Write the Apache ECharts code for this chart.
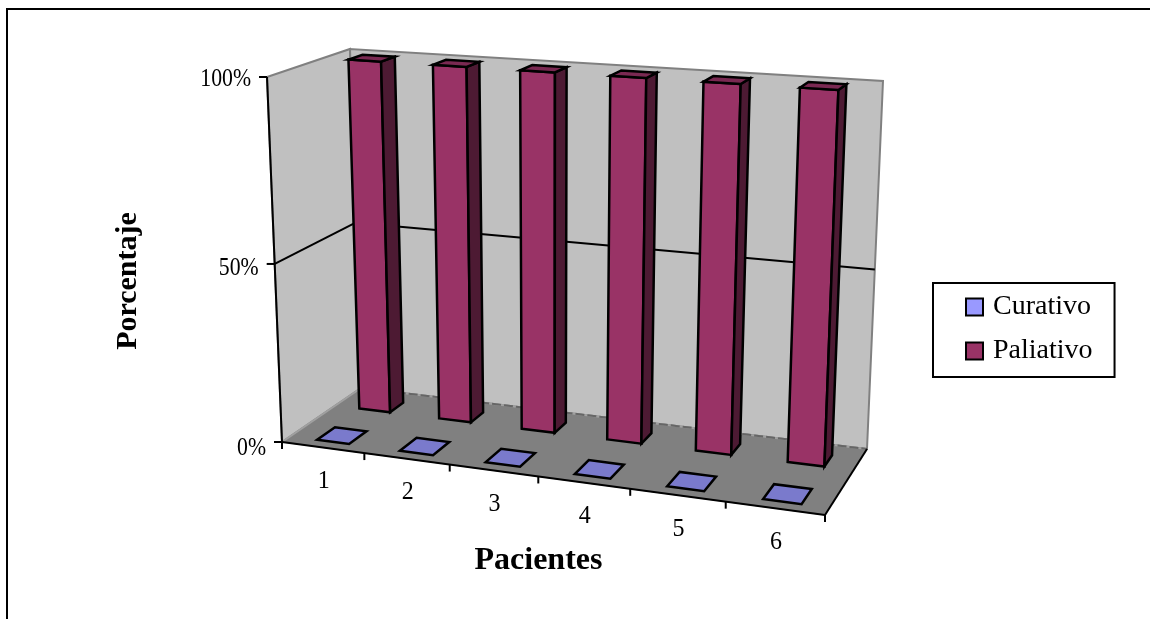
<!DOCTYPE html>
<html>
<head>
<meta charset="utf-8">
<style>html,body{margin:0;padding:0;background:#fff}#chart{width:1150px;height:619px}</style>
<script src="https://cdn.jsdelivr.net/npm/echarts@6/dist/echarts.min.js"></script>
</head>
<body>
<div id="chart"></div>
<script>
var pacientes = ['1', '2', '3', '4', '5', '6'];
var curativo = [0, 0, 0, 0, 0, 0];
var paliativo = [100, 100, 100, 100, 100, 100];
var porcentajes = [0, 50, 100];

// the hidden grid is the flat chart, project() folds it into the 3d box
var gridL = 100, gridT = 100, gridW = 600, gridH = 300;
var serif = '"Liberation Serif", "Times New Roman", serif';

// corners of the box: front left, front right, back right, back left
var floorQuad = [[282, 442], [825, 515], [867, 449], [361, 388]];
var topQuad = [[267, 77], [839, 115], [883, 81], [350, 49]];

function homography(q) {
    var dx1 = q[1][0] - q[2][0], dx2 = q[3][0] - q[2][0], sx = q[0][0] - q[1][0] + q[2][0] - q[3][0];
    var dy1 = q[1][1] - q[2][1], dy2 = q[3][1] - q[2][1], sy = q[0][1] - q[1][1] + q[2][1] - q[3][1];
    var den = dx1 * dy2 - dx2 * dy1;
    var g = (sx * dy2 - dx2 * sy) / den, h = (dx1 * sy - sx * dy1) / den;
    var a = q[1][0] - q[0][0] + g * q[1][0], b = q[3][0] - q[0][0] + h * q[3][0];
    var d = q[1][1] - q[0][1] + g * q[1][1], e = q[3][1] - q[0][1] + h * q[3][1];
    return function (u, w) {
        var t = g * u + h * w + 1;
        return [(a * u + b * w + q[0][0]) / t, (d * u + e * w + q[0][1]) / t];
    };
}
var floorH = homography(floorQuad), topH = homography(topQuad);

function project(u, v, w) {
    var p0 = floorH(u, w), p1 = topH(u, w);
    var k = v / (v + (1 - v) * 1.05);
    return [p0[0] + (p1[0] - p0[0]) * k, p0[1] + (p1[1] - p0[1]) * k];
}
function toU(x) { return (x - gridL) / gridW; }
function toV(y) { return (gridT + gridH - y) / gridH; }

function poly(points, fill, stroke, lineWidth) {
    return {
        type: 'polygon',
        shape: {points: points},
        style: {fill: fill, stroke: stroke, lineWidth: lineWidth, lineJoin: 'miter'}
    };
}
function line(a, b, color, width, dash) {
    return {
        type: 'line',
        shape: {x1: a[0], y1: a[1], x2: b[0], y2: b[1]},
        style: {stroke: color, lineWidth: width, lineDash: dash}
    };
}
// the labels in the picture are tall and narrow, hence the scaleX
function label(text, p, align, size, sx) {
    return {
        type: 'text',
        x: p[0],
        y: p[1],
        scaleX: sx,
        style: {text: text, align: align, verticalAlign: 'middle', fill: '#000', font: size + 'px ' + serif}
    };
}

function renderBox(params, api) {
    var c = [];
    var edge = '#808080';
    c.push(poly([project(0, 0, 0), project(0, 1, 0), project(0, 1, 1), project(0, 0, 1)], '#c0c0c0', edge, 2));
    c.push(poly([project(0, 0, 1), project(0, 1, 1), project(1, 1, 1), project(1, 0, 1)], '#c0c0c0', edge, 2));
    c.push(poly([project(0, 0, 0), project(1, 0, 0), project(1, 0, 1), project(0, 0, 1)], '#808080', edge, 1));
    c.push(line(project(0, 0, 0), project(0, 0, 1), '#a0a0a0', 2));
    c.push(line(project(0, 0, 1), project(1, 0, 1), '#a0a0a0', 2));
    c.push(line(project(0, 0, 1), project(1, 0, 1), '#666', 2, [9, 3]));
    // grid lines on the walls
    porcentajes.forEach(function (val) {
        var v = toV(api.coord([0, val])[1]);
        if (val > 0 && val < 100) {
            c.push(line(project(0, v, 0), project(0, v, 1), '#000', 2));
            c.push(line(project(0, v, 1), project(1, v, 1), '#000', 2));
        }
        var p = project(0, v, 0);
        c.push(line([p[0] - 8, p[1]], p, '#000', 2));
        c.push(label(val + '%', [p[0] - 16, p[1] + 6 - 4 * v], 'right', 25, 0.87));
    });
    c.push(line(project(0, 0, 0), project(0, 1, 0), '#000', 2));
    c.push(line(project(0, 0, 0), project(1, 0, 0), '#000', 2));
    c.push(line(project(1, 0, 0), project(1, 0, 1), '#000', 2));
    // category ticks and labels
    var band = api.size([1, 0])[0];
    for (var i = 0; i <= pacientes.length; i++) {
        var u = toU(api.coord([i, 0])[0] - band / 2);
        var p = project(u, 0, 0);
        c.push(line(p, [p[0], p[1] + 7], '#000', 2));
        if (i < pacientes.length) {
            var m = project(toU(api.coord([i, 0])[0]), 0, 0);
            c.push(label(pacientes[i], [m[0] + 1, m[1] + 34], 'center', 25, 0.96));
        }
    }
    return {type: 'group', children: c};
}

function renderBar(wFront, wBack, front, side, top, barFrac, shift) {
    return function (params, api) {
        var band = api.size([1, 0])[0];
        var cx = api.coord([api.value(0), 0])[0] + band * shift;
        var half = band * barFrac / 2;
        var u0 = toU(cx - half), u1 = toU(cx + half);
        var v = toV(api.coord([0, api.value(1)])[1]);
        var c = [];
        if (v > 0) {
            c.push(poly([project(u0, 0, wFront), project(u1, 0, wFront), project(u1, v, wFront), project(u0, v, wFront)], front, '#000', 2.5));
            c.push(poly([project(u1, 0, wFront), project(u1, 0, wBack), project(u1, v, wBack), project(u1, v, wFront)], side, '#000', 2.5));
        }
        c.push(poly([project(u0, v, wFront), project(u1, v, wFront), project(u1, v, wBack), project(u0, v, wBack)], top, '#000', 2.5));
        return {type: 'group', children: c};
    };
}

function rows(values) {
    return values.map(function (val, i) { return [i, val]; });
}

var myChart = echarts.init(document.getElementById('chart'));
var option = {
    backgroundColor: '#fff',
    animation: false,
    grid: {left: gridL, top: gridT, width: gridW, height: gridH, show: false},
    xAxis: {type: 'category', data: pacientes, show: false},
    yAxis: {type: 'value', min: 0, max: 100, interval: 50, show: false},
    legend: {
        data: ['Curativo', 'Paliativo'],
        orient: 'vertical',
        left: 933,
        top: 283,
        padding: [10, 22, 12, 32],
        itemWidth: 17,
        itemHeight: 17,
        itemGap: 16,
        icon: 'rect',
        borderColor: '#000',
        borderWidth: 2,
        backgroundColor: '#fff',
        selectedMode: false,
        itemStyle: {borderColor: '#000', borderWidth: 2},
        textStyle: {color: '#000', fontFamily: serif, fontSize: 28, lineHeight: 17, padding: [0, 0, 0, 5]}
    },
    graphic: [
        {
            type: 'polyline',
            shape: {points: [[7, 640], [7, 9], [1170, 9]]},
            style: {stroke: '#000', lineWidth: 2, fill: null}
        },
        {
            type: 'text', x: 128, y: 281, rotation: Math.PI / 2,
            style: {text: 'Porcentaje', align: 'center', verticalAlign: 'middle', fill: '#000', font: 'bold 30px ' + serif}
        },
        {
            type: 'text', x: 538.5, y: 561,
            style: {text: 'Pacientes', align: 'center', verticalAlign: 'middle', fill: '#000', font: 'bold 32px ' + serif}
        }
    ],
    series: [
        {name: 'caja', type: 'custom', coordinateSystem: 'cartesian2d', silent: true, clip: false, z: 1,
            renderItem: renderBox, data: [[0, 0]]},
        {name: 'Paliativo', type: 'custom', coordinateSystem: 'cartesian2d', silent: true, clip: false, z: 2,
            itemStyle: {color: '#993366'},
            renderItem: renderBar(0.66, 0.84, '#993366', '#4d1a33', '#7a2952', 0.39, 0), data: rows(paliativo)},
        {name: 'Curativo', type: 'custom', coordinateSystem: 'cartesian2d', silent: true, clip: false, z: 3,
            itemStyle: {color: '#9999ff'},
            renderItem: renderBar(0.1, 0.32, '#9999ff', '#4d4d80', '#7a7acc', 0.39, 0.025), data: rows(curativo)}
    ]
};
myChart.setOption(option);
</script>
</body>
</html>
